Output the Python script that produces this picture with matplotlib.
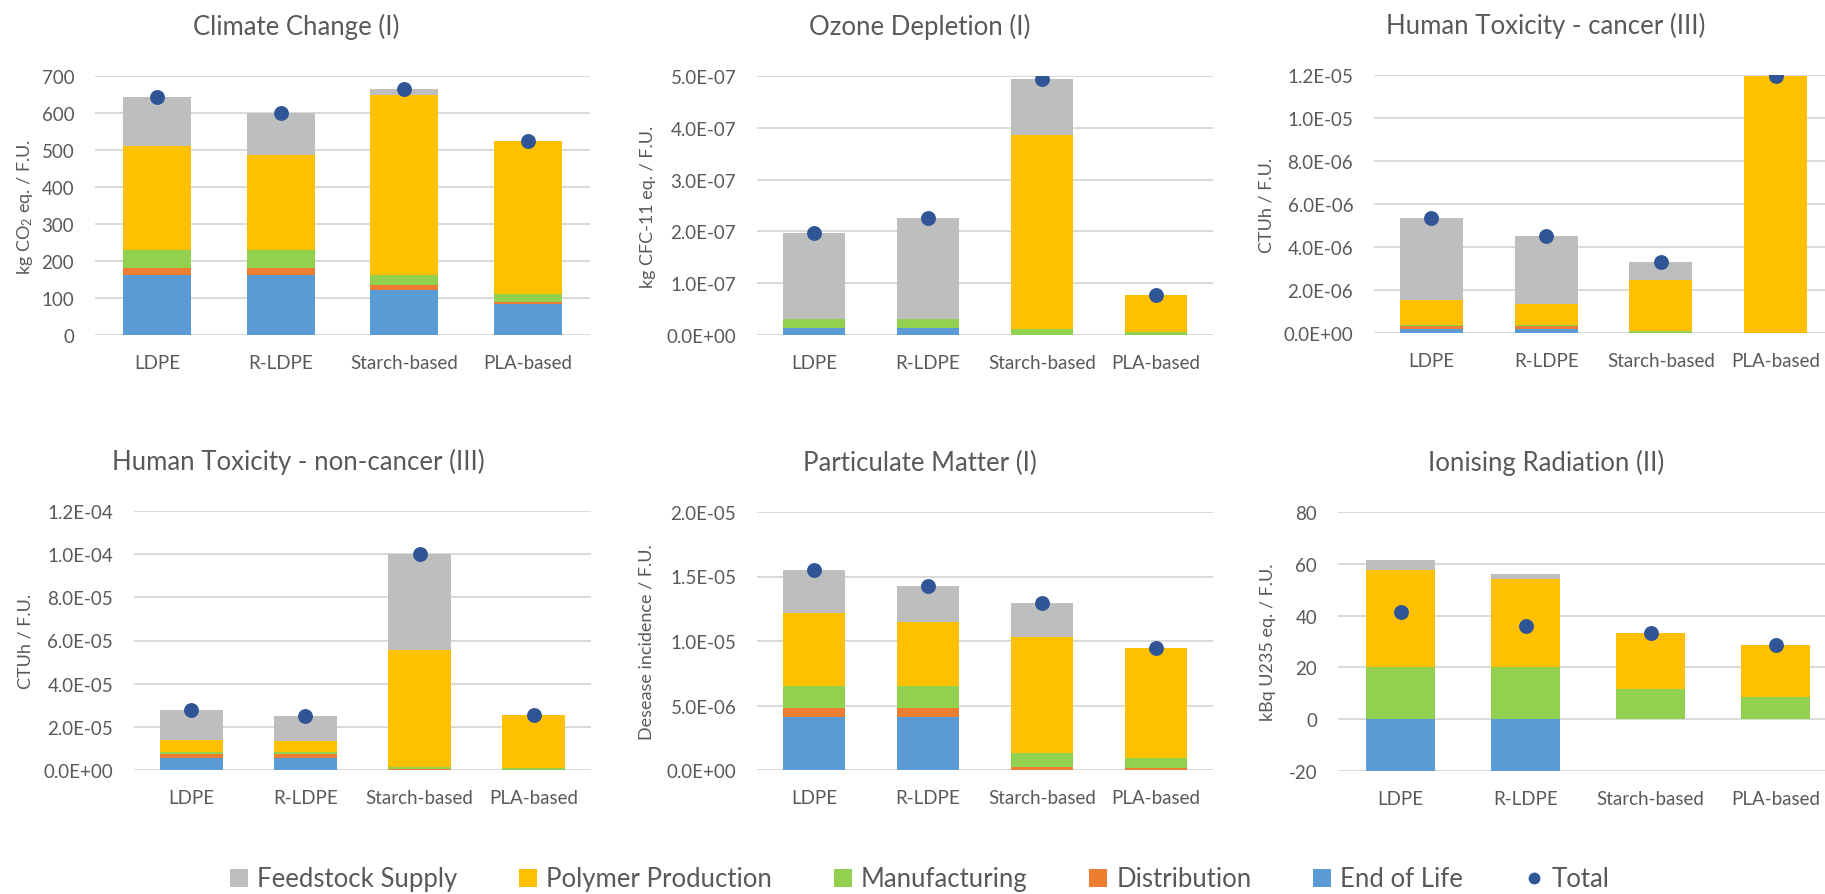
import numpy as np
import matplotlib
matplotlib.use("Agg")
import matplotlib.pyplot as plt
from matplotlib.patches import Patch
from matplotlib.lines import Line2D
from matplotlib.ticker import FuncFormatter, MultipleLocator

plt.rcParams['font.family'] = ['Lato', 'DejaVu Sans']
plt.rcParams['mathtext.fontset'] = 'custom'
plt.rcParams['mathtext.rm'] = 'Lato'
plt.rcParams['mathtext.it'] = 'Lato:italic'

products = ["LDPE", "R-LDPE", "Starch-based", "PLA-based"]
stages = ["End of Life", "Distribution", "Manufacturing", "Polymer Production", "Feedstock Supply"]
legend_order = ["Feedstock Supply", "Polymer Production", "Manufacturing", "Distribution", "End of Life"]

# Climate Change (kg CO2 eq. / F.U.)
cc_eol = [161, 161, 121, 83]
cc_dist = [21, 21, 13, 6]
cc_manuf = [49, 49, 27, 21]
cc_poly = [281, 256, 487, 415]
cc_feed = [131, 112, 16, 0]

# Ozone Depletion (kg CFC-11 eq. / F.U.)
od_eol = [1.4e-8, 1.4e-8, 0.0, 0.0]
od_dist = [0.0, 0.0, 0.0, 0.0]
od_manuf = [1.6e-8, 1.6e-8, 1.1e-8, 0.6e-8]
od_poly = [0.0, 0.0, 3.75e-7, 7.2e-8]
od_feed = [1.67e-7, 1.96e-7, 1.08e-7, 0.0]

# Human Toxicity - cancer (CTUh / F.U.)
htc_eol = [0.20e-6, 0.20e-6, 0.0, 0.0]
htc_dist = [0.11e-6, 0.11e-6, 0.02e-6, 0.0]
htc_manuf = [0.08e-6, 0.08e-6, 0.07e-6, 0.02e-6]
htc_poly = [1.13e-6, 0.96e-6, 2.39e-6, 11.95e-6]
htc_feed = [3.82e-6, 3.16e-6, 0.82e-6, 0.0]

# Human Toxicity - non-cancer (CTUh / F.U.)
htn_eol = [5.4e-6, 5.4e-6, 0.0, 0.0]
htn_dist = [1.85e-6, 1.85e-6, 0.5e-6, 0.0]
htn_manuf = [1.23e-6, 1.23e-6, 1.04e-6, 0.8e-6]
htn_poly = [5.56e-6, 5.09e-6, 54.0e-6, 24.65e-6]
htn_feed = [13.72e-6, 11.26e-6, 44.4e-6, 0.0]

# Particulate Matter (disease incidence / F.U.)
pm_eol = [4.13e-6, 4.13e-6, 0.0, 0.0]
pm_dist = [0.70e-6, 0.70e-6, 0.23e-6, 0.15e-6]
pm_manuf = [1.68e-6, 1.68e-6, 1.11e-6, 0.80e-6]
pm_poly = [5.63e-6, 4.96e-6, 8.94e-6, 8.53e-6]
pm_feed = [3.39e-6, 2.79e-6, 2.69e-6, 0.0]

# Ionising Radiation (kBq U235 eq. / F.U.)
ir_eol = [-19.9, -19.9, 0.0, 0.0]
ir_dist = [0.0, 0.0, 0.0, 0.0]
ir_manuf = [20.0, 20.0, 11.7, 8.7]
ir_poly = [37.5, 34.0, 21.4, 20.1]
ir_feed = [3.9, 2.0, 0.3, 0.0]

colors = {
    "Feedstock Supply": "#BEBEBE",
    "Polymer Production": "#FFC000",
    "Manufacturing": "#92D050",
    "Distribution": "#ED7D31",
    "End of Life": "#5B9BD5",
}
total_color = "#2F5597"
text_color = "#595959"
grid_color = "#D9D9D9"

W, H = 1825, 895


def sci(v, pos):
    if abs(v) < 1e-30:
        v = 0.0
    return "{:.1E}".format(v)


def plain(v, pos):
    return "{:.0f}".format(v)


panels = [
    dict(title="Climate Change (I)", ylabel="kg CO$_2$ eq. / F.U.",
         data=[cc_eol, cc_dist, cc_manuf, cc_poly, cc_feed],
         ylim=(0, 700), step=100, fmt=plain,
         box=(95, 77, 590, 336), title_x=296, ylabel_x=25),
    dict(title="Ozone Depletion (I)", ylabel="kg CFC-11 eq. / F.U.",
         data=[od_eol, od_dist, od_manuf, od_poly, od_feed],
         ylim=(0, 5e-7), step=1e-7, fmt=sci,
         box=(757, 77, 1213, 336), title_x=920, ylabel_x=648),
    dict(title="Human Toxicity - cancer (III)", ylabel="CTUh / F.U.",
         data=[htc_eol, htc_dist, htc_manuf, htc_poly, htc_feed],
         ylim=(0, 1.2e-5), step=2e-6, fmt=sci,
         box=(1374, 76, 1833, 334), title_x=1546, ylabel_x=1266),
    dict(title="Human Toxicity - non-cancer (III)", ylabel="CTUh / F.U.",
         data=[htn_eol, htn_dist, htn_manuf, htn_poly, htn_feed],
         ylim=(0, 1.2e-4), step=2e-5, fmt=sci,
         box=(134, 512, 591, 771), title_x=298, ylabel_x=26),
    dict(title="Particulate Matter (I)", ylabel="Desease incidence / F.U.",
         data=[pm_eol, pm_dist, pm_manuf, pm_poly, pm_feed],
         ylim=(0, 2e-5), step=5e-6, fmt=sci,
         box=(757, 513, 1213, 771), title_x=920, ylabel_x=647),
    dict(title="Ionising Radiation (II)", ylabel="kBq U235 eq. / F.U.",
         data=[ir_eol, ir_dist, ir_manuf, ir_poly, ir_feed],
         ylim=(-20, 80), step=20, fmt=plain,
         box=(1338, 513, 1838, 772), title_x=1546, ylabel_x=1268),
]

fig = plt.figure(figsize=(W / 100, H / 100), dpi=100)
x = np.arange(len(products))

for p in panels:
    x0, y0, x1, y1 = p["box"]
    ax = fig.add_axes([x0 / W, 1 - y1 / H, (x1 - x0) / W, (y1 - y0) / H])
    pos_bottom = np.zeros(len(products))
    neg_bottom = np.zeros(len(products))
    for stage, vals in zip(stages, p["data"]):
        vals = np.asarray(vals, dtype=float)
        bottom = np.where(vals >= 0, pos_bottom, neg_bottom)
        ax.bar(x, vals, width=0.55, bottom=bottom, color=colors[stage],
               zorder=2, linewidth=0)
        pos_bottom = pos_bottom + np.where(vals >= 0, vals, 0)
        neg_bottom = neg_bottom + np.where(vals < 0, vals, 0)
    totals = np.sum(np.asarray(p["data"], dtype=float), axis=0)
    ax.scatter(x, totals, s=115, color=total_color, zorder=3, linewidths=0)

    ax.set_xlim(-0.5, len(products) - 0.5)
    ax.set_ylim(*p["ylim"])
    ax.yaxis.set_major_locator(MultipleLocator(p["step"]))
    ax.yaxis.set_major_formatter(FuncFormatter(p["fmt"]))
    ax.grid(axis="y", color=grid_color, linewidth=1.4, zorder=0)
    ax.set_axisbelow(True)
    for s in ax.spines.values():
        s.set_visible(False)
    ax.tick_params(axis="both", length=0, colors=text_color)
    ax.tick_params(axis="y", pad=15, labelsize=13.5)
    ax.tick_params(axis="x", pad=14, labelsize=13.5)
    ax.set_xticks(x)
    ax.set_xticklabels(products)

    yc = (y0 + y1) / 2
    fig.text(p["ylabel_x"] / W, 1 - yc / H, p["ylabel"], rotation=90,
             ha="center", va="center", fontsize=13, color=text_color)
    fig.text(p["title_x"] / W, 1 - (y0 - 50) / H, p["title"],
             ha="center", va="center", fontsize=18.5, color=text_color)

handles = [Patch(facecolor=colors[s], edgecolor="none") for s in legend_order]
handles.append(Line2D([], [], marker="o", linestyle="none", markersize=8.5,
                      markerfacecolor=total_color, markeredgewidth=0))
labels = legend_order + ["Total"]
fig.legend(handles, labels, loc="center", bbox_to_anchor=(920 / W, 1 - 880 / H),
           ncol=6, frameon=False, fontsize=18.5, labelcolor=text_color,
           handlelength=0.7, handleheight=0.7, handletextpad=0.35,
           columnspacing=2.4)

fig.savefig("out.png", dpi=100)
